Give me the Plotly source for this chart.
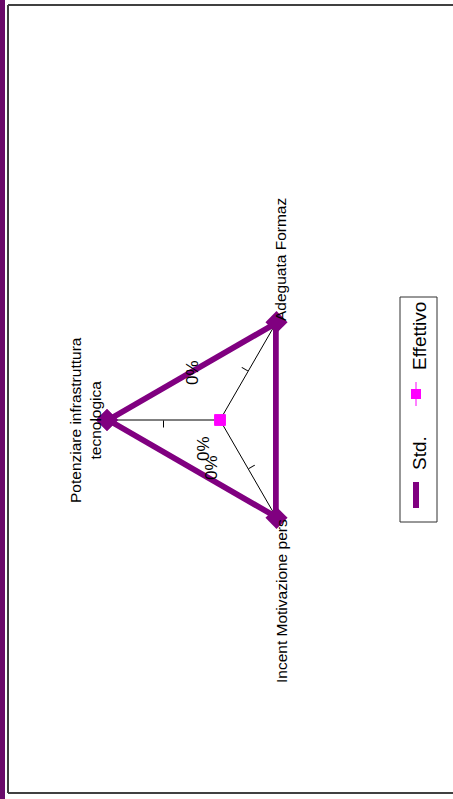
import plotly.graph_objects as go

# --- DATA ---
categories = ["Potenziare infrastruttura<br>tecnologica", "Adeguata Formaz", "Incent Motivazione pers"]
std_values = [1.0, 1.0, 1.0]
eff_values = [0.0, 0.0, 0.0]
eff_labels = ["0%", "0%", "0%"]
series_names = ["Std.", "Effettivo"]
r_max = 1.0
tick_vals = [0.5]

# --- STYLE ---
W, H = 453, 799
PURPLE = "#800080"
MAGENTA = "#ff00ff"
FONT = "Liberation Sans, Arial, sans-serif"
PAD = 1.04  # a little headroom so the thick outline isn't clipped


def px(x):
    return x / W


def py(y):
    return 1 - y / H


# radar centre/radius in screen pixels (chart is rotated 90 deg like the source)
cx, cy, rad = 220, 420, 113 * PAD
dom_x = [px(cx - rad), px(cx + rad)]
dom_y = [py(cy + rad), py(cy - rad)]

fig = go.Figure()

# close the polygon
fig.add_trace(go.Scatterpolar(
    r=std_values + std_values[:1], theta=categories + categories[:1],
    mode="lines+markers", name=series_names[0],
    line=dict(color=PURPLE, width=7),
    marker=dict(symbol="diamond", size=17, color=PURPLE),
    showlegend=False, subplot="polar",
))
# Effettivo sits on its own overlaid polar: a cliponaxis=False trace in the
# same subplot makes plotly hide points lying exactly on the centre
fig.add_trace(go.Scatterpolar(
    r=eff_values + eff_values[:1], theta=categories + categories[:1],
    mode="lines+markers", name=series_names[1],
    line=dict(color=MAGENTA, width=1),
    marker=dict(symbol="square", size=11, color=MAGENTA),
    cliponaxis=True, showlegend=False, subplot="polar2",
))

# polar3 only draws the mid tick on the last spoke
fig.add_trace(go.Scatterpolar(r=[0], theta=[0], mode="markers",
                              marker=dict(size=1, opacity=0), cliponaxis=True,
                              hoverinfo="skip", showlegend=False, subplot="polar3"))


def polar_layout(angle, show_grid):
    return dict(
        domain=dict(x=dom_x, y=dom_y),
        bgcolor="rgba(0,0,0,0)",
        gridshape="linear",
        radialaxis=dict(range=[0, r_max * PAD], angle=angle, side="counterclockwise",
                        showgrid=False, showline=False,
                        showticklabels=False, ticks="outside", tickvals=tick_vals,
                        ticklen=7, tickwidth=1, tickcolor="black"),
        angularaxis=dict(rotation=180, direction="clockwise", showline=False,
                         showticklabels=False, ticks="", showgrid=show_grid,
                         gridcolor="black", gridwidth=1, visible=True),
    )


fig.update_layout(
    width=W, height=H,
    margin=dict(l=0, r=0, t=0, b=0),
    paper_bgcolor="white",
    showlegend=False,
    polar=polar_layout(180, True),
    polar2=polar_layout(60, False),
    polar3=polar_layout(300, False),
)
fig.layout.polar2.angularaxis.visible = False
fig.layout.polar3.angularaxis.visible = False


def rot_text(text, x, y, size):
    fig.add_annotation(x=px(x), y=py(y), xref="paper", yref="paper", text=text,
                       xanchor="center", yanchor="middle", textangle=-90,
                       showarrow=False, font=dict(family=FONT, size=size, color="black"))


# --- category labels (rotated text) ---
label_pos = [(85, 420), (281, 260), (281, 601)]
for text, (x, y) in zip(categories, label_pos):
    rot_text(text, x, y, 15.5)

# data labels
dl_pos = [(193, 373), (203, 449), (211, 468)]
for text, (x, y) in zip(eff_labels, dl_pos):
    rot_text(text, x, y, 17)

# --- frame: purple strip and grey border ---
fig.add_shape(type="rect", xref="paper", yref="paper", x0=0, x1=px(5), y0=0, y1=1,
              fillcolor="#6a0a6a", line=dict(width=0))
fig.add_shape(type="line", xref="paper", yref="paper", x0=px(8), x1=px(8), y0=py(5), y1=py(793),
              line=dict(color="#404040", width=2))
fig.add_shape(type="line", xref="paper", yref="paper", x0=px(8), x1=1, y0=py(5), y1=py(5),
              line=dict(color="#404040", width=2))
fig.add_shape(type="line", xref="paper", yref="paper", x0=px(8), x1=1, y0=py(793), y1=py(793),
              line=dict(color="#404040", width=2))

# --- hand-built rotated legend ---
fig.add_shape(type="rect", xref="paper", yref="paper", x0=px(400), x1=px(437), y0=py(522), y1=py(297),
              line=dict(color="#303030", width=1), fillcolor="white")
fig.add_shape(type="line", xref="paper", yref="paper", x0=px(416), x1=px(416), y0=py(508), y1=py(482),
              line=dict(color=PURPLE, width=6))
fig.add_shape(type="line", xref="paper", yref="paper", x0=px(416), x1=px(416), y0=py(406), y1=py(382),
              line=dict(color=MAGENTA, width=1))
fig.add_shape(type="rect", xref="paper", yref="paper", x0=px(411), x1=px(421), y0=py(399), y1=py(389),
              line=dict(width=0), fillcolor=MAGENTA)
rot_text(series_names[0], 419, 453, 19)
rot_text(series_names[1], 419, 336, 19)

# page body has a default 8px margin; drop it so the figure sits at 0,0
fig.write_html("out.html", config={"displayModeBar": False},
               post_script="document.body.style.margin='0';")
